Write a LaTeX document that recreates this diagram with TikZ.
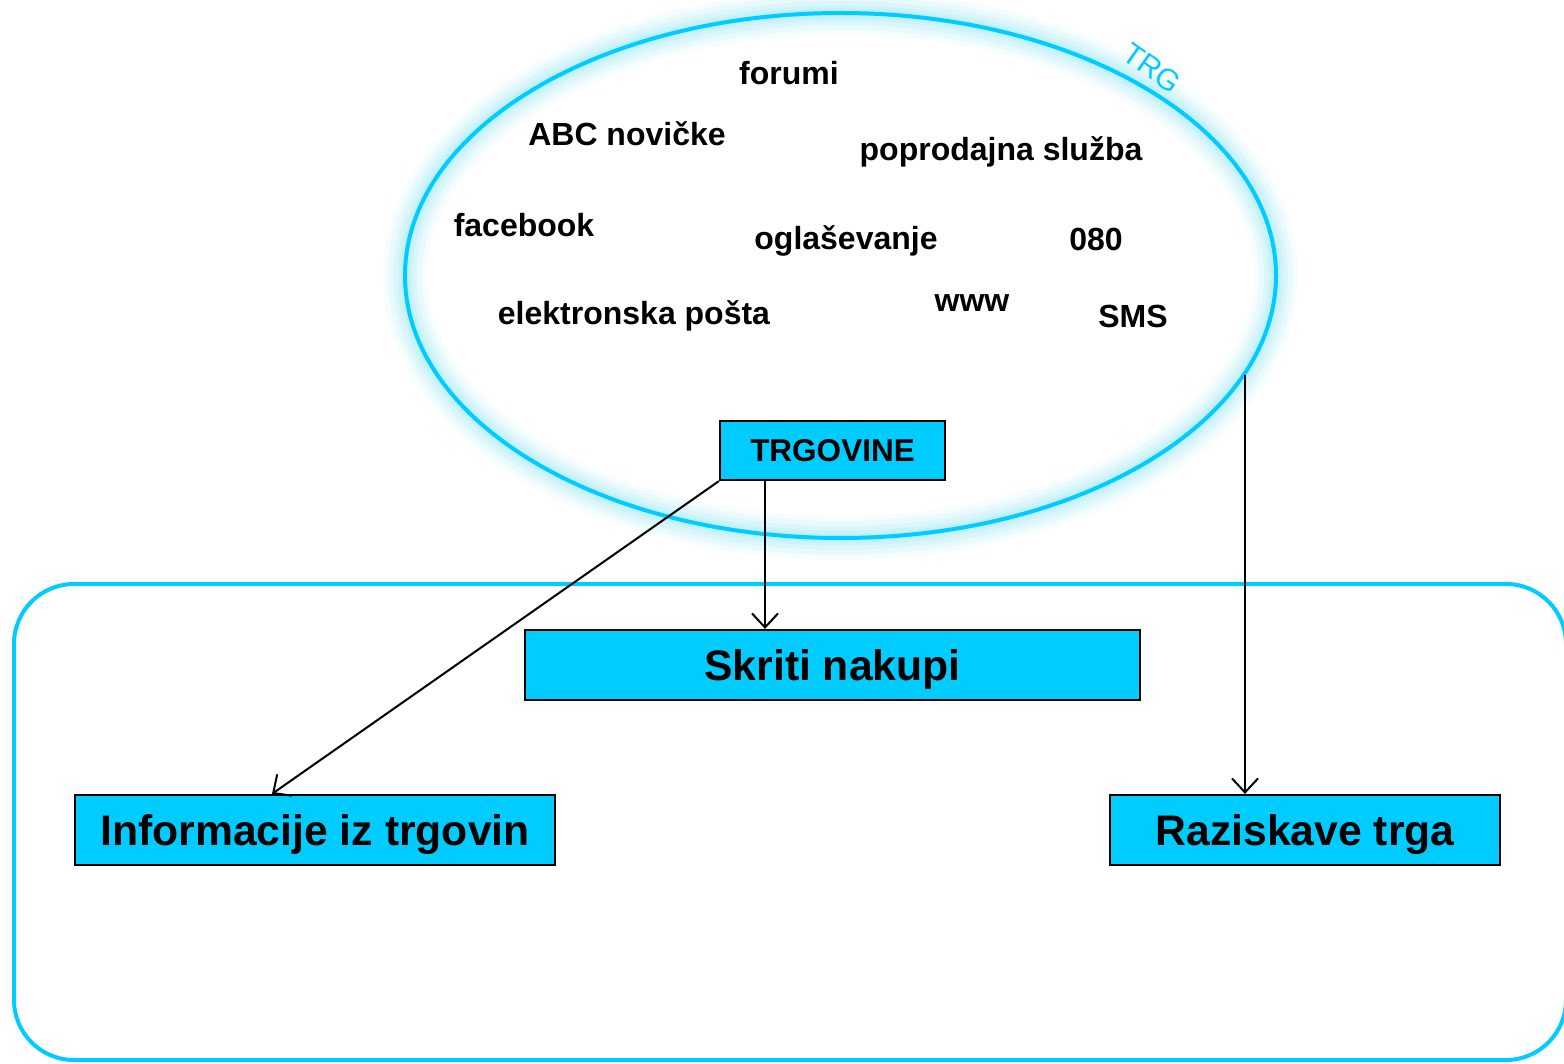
\documentclass[tikz,border=0pt]{standalone}
\usepackage{fontspec}
\setmainfont{Liberation Sans}
\usetikzlibrary{arrows.meta}
\definecolor{cyanA}{HTML}{00CCFF}
\definecolor{glowC}{HTML}{B8EEF8}
\tikzset{
  lbl/.style={font=\fontsize{32}{36}\selectfont\bfseries, inner sep=0pt, anchor=base},
  smallbox/.style={draw=black, line width=2.2pt, fill=cyanA, inner sep=0pt, text height=22.7pt, text depth=0pt, font=\fontsize{31.5}{36}\selectfont\bfseries},
  bigbox/.style={draw=black, line width=2.2pt, fill=cyanA, inner sep=0pt, text height=30.7pt, text depth=0pt, font=\fontsize{42.7}{48}\selectfont\bfseries},
  conn/.style={draw=black, line width=2pt, -{Straight Barb[length=14pt,width=26pt,line width=2pt]}},
}
\begin{document}
\begin{tikzpicture}[x=1pt,y=-1pt]
\useasboundingbox (0,0) rectangle (1564,1064);
\clip (0,0) rectangle (1564,1064);
% glow of the ellipse
\foreach \w/\o in {44/0.14,34/0.2,24/0.28,15/0.4,9/0.55}{
  \draw[glowC, line width=\w pt, opacity=\o] (840.5,275.5) ellipse [x radius=435.5, y radius=262.5];
}
\draw[cyanA, line width=4pt] (840.5,275.5) ellipse [x radius=435.5, y radius=262.5];
\node[text=cyanA, font=\fontsize{30}{34}\selectfont, rotate=-35, inner sep=0pt] (trg) at (1152,68) {TRG};
% rounded frame
\draw[cyanA, line width=4pt, rounded corners=60pt] (14,584) rectangle (1566,1060);
% labels inside ellipse
\node[lbl] (forumi) at (789,85) {forumi};
\node[lbl] (abc) at (627,146) {ABC novičke};
\node[lbl] (popr) at (1001,161) {poprodajna služba};
\node[lbl] (fb) at (524,237) {facebook};
\node[lbl] (ogl) at (846,250) {oglaševanje};
\node[lbl] (n080) at (1096,251) {080};
\node[lbl] (mail) at (634,325) {elektronska pošta};
\node[lbl] (www) at (972,312) {www};
\node[lbl] (sms) at (1133,328) {SMS};
% boxes
\node[smallbox, minimum width=225pt, minimum height=59pt] (trgov) at (832.5,450.5) {TRGOVINE};
\node[bigbox, minimum width=615pt, minimum height=70pt] (skriti) at (832.5,665) {Skriti nakupi};
\node[bigbox, minimum width=480pt, minimum height=70pt] (info) at (315,830) {Informacije iz trgovin};
\node[bigbox, minimum width=390pt, minimum height=70pt] (razi) at (1305,830) {Raziskave trga};
\coordinate (elpt) at (1245,375);
% connectors
\draw[conn] (trgov.south west) -- (info.north west -| 272,0);
\draw[conn] (trgov.south west -| 765,0) -- (skriti.north west -| 765,0);
\draw[conn] (elpt) -- (razi.north west -| 1245,0);
\end{tikzpicture}
\end{document}
